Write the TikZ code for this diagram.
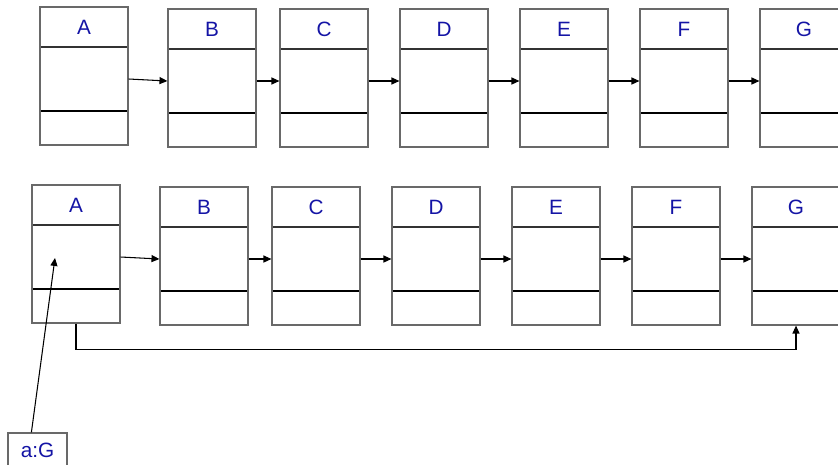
\documentclass[tikz,border=0pt]{standalone}
\usepackage{fontspec}
\setmainfont{Liberation Sans}
\usetikzlibrary{calc, arrows.meta}
\definecolor{grigiobox}{RGB}{105,105,105}
\definecolor{blulettera}{RGB}{20,20,165}

\begin{document}
\begin{tikzpicture}[x=0.02cm, y=-0.02cm,
  etichetta/.style={text=blulettera, font=\fontsize{11.8}{14}\selectfont, inner sep=0pt},
  cella/.style={draw=grigiobox, line width=0.7pt, minimum width=1.76cm, minimum height=2.76cm, inner sep=0pt,
    path picture={
      \draw[line width=1.1pt, black!80] ($(path picture bounding box.north west)+(0,40)$) -- ($(path picture bounding box.north east)+(0,40)$);
      \draw[line width=0.8pt, black] ($(path picture bounding box.north west)+(0,104)$) -- ($(path picture bounding box.north east)+(0,104)$);
      \node[etichetta] at ($(path picture bounding box.north)+(0,20)$) {#1};
    }},
  freccia/.style={-{Triangle[length=4.5pt,width=4pt]}, line width=0.6pt},
]

% cornice
\useasboundingbox (0,0) rectangle (838,464);
\clip (0,0) rectangle (838,464);

% prima lista
\node[cella=A] (a1) at (84,76) {};
\node[cella=B] (b1) at (212,78) {};
\node[cella=C] (c1) at (324,78) {};
\node[cella=D] (d1) at (444,78) {};
\node[cella=E] (e1) at (564,78) {};
\node[cella=F] (f1) at (684,78) {};
\node[cella=G] (g1) at (804,78) {};

\draw[freccia] ($(a1.east)+(0,3)$) -- ($(b1.west)+(0,3)$);
\draw[freccia] ($(b1.east)+(0,3)$) -- ($(c1.west)+(0,3)$);
\draw[freccia] ($(c1.east)+(0,3)$) -- ($(d1.west)+(0,3)$);
\draw[freccia] ($(d1.east)+(0,3)$) -- ($(e1.west)+(0,3)$);
\draw[freccia] ($(e1.east)+(0,3)$) -- ($(f1.west)+(0,3)$);
\draw[freccia] ($(f1.east)+(0,3)$) -- ($(g1.west)+(0,3)$);

% seconda lista
\node[cella=A] (a2) at (76,254) {};
\node[cella=B] (b2) at (204,256) {};
\node[cella=C] (c2) at (316,256) {};
\node[cella=D] (d2) at (436,256) {};
\node[cella=E] (e2) at (556,256) {};
\node[cella=F] (f2) at (676,256) {};
\node[cella=G] (g2) at (796,256) {};

\draw[freccia] ($(a2.east)+(0,3)$) -- ($(b2.west)+(0,3)$);
\draw[freccia] ($(b2.east)+(0,3)$) -- ($(c2.west)+(0,3)$);
\draw[freccia] ($(c2.east)+(0,3)$) -- ($(d2.west)+(0,3)$);
\draw[freccia] ($(d2.east)+(0,3)$) -- ($(e2.west)+(0,3)$);
\draw[freccia] ($(e2.east)+(0,3)$) -- ($(f2.west)+(0,3)$);
\draw[freccia] ($(f2.east)+(0,3)$) -- ($(g2.west)+(0,3)$);

% collegamento da A a G
\draw[freccia] (a2.south) -- ++(0,26) -| (g2.south);

% riferimento a:G
\node[draw=grigiobox, line width=0.7pt, minimum width=1.18cm, minimum height=0.68cm, inner sep=0pt,
  text=blulettera, font=\fontsize{11.8}{14}\selectfont] (ag) at (37.5,450) {a:G};
\coordinate (dentro) at ($(a2)+(-21,4)$);
\draw[freccia] ($(ag.north west)+(24,0)$) -- (dentro);

\end{tikzpicture}
\end{document}
